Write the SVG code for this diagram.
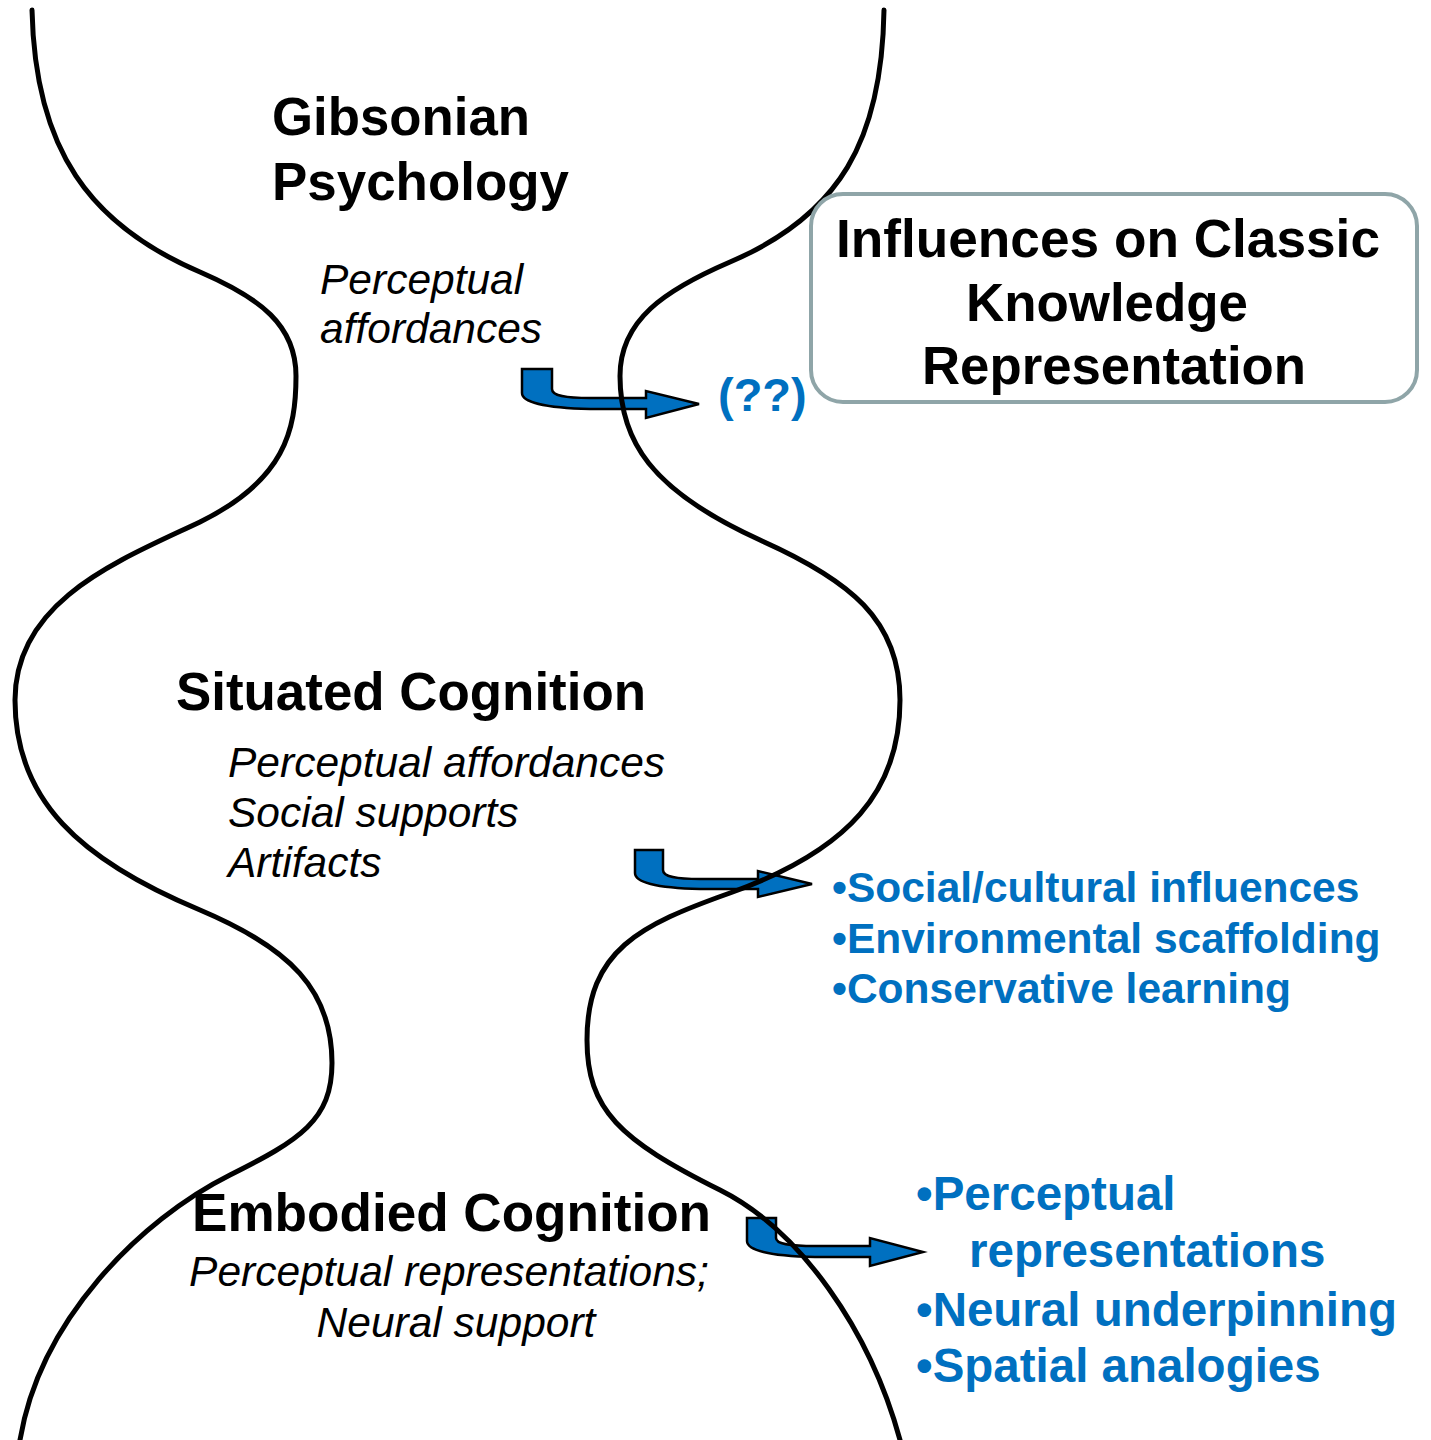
<svg xmlns="http://www.w3.org/2000/svg" width="1431" height="1440" viewBox="0 0 1431 1440">
<style>
.curve{fill:none;stroke:#000;stroke-width:5;stroke-linecap:round}
.arr{fill:#0070C0;stroke:#000;stroke-width:2.5;stroke-linejoin:miter}
.title{font-family:"Liberation Sans",Arial,sans-serif;font-weight:bold;font-size:53px;fill:#000}
.ital{font-family:"Liberation Sans",Arial,sans-serif;font-style:italic;font-size:42.5px;fill:#000}
.blue{font-family:"Liberation Sans",Arial,sans-serif;font-weight:bold;fill:#0070C0}
.box{fill:#fff;stroke:#8FA5A8;stroke-width:4}
</style>
<rect width="1431" height="1440" fill="#fff"/>
<g id="connectors">
<path class="arr" d="M522,369 H552 V389 C552,396 565,398 590,398 H646 V391 L699,404 L646,418 V409 H590 C545,408 522,402 522,393 Z"/>
<path class="arr" d="M635,850 H663 V870 C663,877 676,879 700,879 H758 V871 L812,884 L758,897 V889 H700 C655,888 635,882 635,873 Z"/>
<path class="arr" d="M747,1218 H776 V1238 C776,1244 789,1246 815,1246 H870 V1238 L923,1252 L870,1266 V1257 H815 C768,1256 747,1250 747,1241 Z"/>
</g>
<g id="hourglass">
<path class="curve" d="M32,10 C35,150 90,225 200,272 C260,298 296,325 296,376 C296,430 285,480 200,522 C120,560 15,600 15,700 C15,800 80,860 200,910 C290,948 332,990 332,1063 C332,1120 300,1140 230,1175 C140,1220 40,1320 20,1440"/>
<path class="curve" d="M884,10 C882,140 840,215 730,262 C665,290 620,320 620,376 C620,440 650,490 760,540 C850,580 900,620 900,700 C900,790 850,850 730,893 C640,925 587,950 587,1040 C587,1110 620,1140 720,1190 C800,1230 870,1330 900,1440"/>
</g>
<g id="box-influences">
<rect class="box" x="811" y="194" width="606" height="208" rx="32" ry="32"/>
<text class="title" x="836" y="257" textLength="544" lengthAdjust="spacingAndGlyphs">Influences on Classic</text>
<text class="title" x="966" y="321" textLength="282" lengthAdjust="spacingAndGlyphs">Knowledge</text>
<text class="title" x="922" y="384" textLength="384" lengthAdjust="spacingAndGlyphs">Representation</text>
</g>
<g id="gibsonian">
<text class="title" x="272" y="135" textLength="258" lengthAdjust="spacingAndGlyphs">Gibsonian</text>
<text class="title" x="272" y="200" textLength="297" lengthAdjust="spacingAndGlyphs">Psychology</text>
<text class="ital" x="320" y="294">Perceptual</text>
<text class="ital" x="320" y="343">affordances</text>
</g>
<g id="gibsonian-result">
<text class="blue" x="718" y="411" font-size="47">(??)</text>
</g>
<g id="situated">
<text class="title" x="176" y="710" textLength="470" lengthAdjust="spacingAndGlyphs">Situated Cognition</text>
<text class="ital" x="228" y="777">Perceptual affordances</text>
<text class="ital" x="228" y="827">Social supports</text>
<text class="ital" x="228" y="877">Artifacts</text>
</g>
<g id="situated-result">
<text class="blue" x="832" y="902" font-size="42.5">•Social/cultural influences</text>
<text class="blue" x="832" y="953" font-size="42.5">•Environmental scaffolding</text>
<text class="blue" x="832" y="1003" font-size="42.5">•Conservative learning</text>
</g>
<g id="embodied">
<text class="title" x="192" y="1231" textLength="519" lengthAdjust="spacingAndGlyphs">Embodied Cognition</text>
<text class="ital" x="449" y="1286" text-anchor="middle">Perceptual representations;</text>
<text class="ital" x="456" y="1337" text-anchor="middle">Neural support</text>
</g>
<g id="embodied-result">
<text class="blue" x="916" y="1210" font-size="47.5">•Perceptual</text>
<text class="blue" x="969" y="1267" font-size="47.5">representations</text>
<text class="blue" x="916" y="1326" font-size="47.5">•Neural underpinning</text>
<text class="blue" x="916" y="1382" font-size="47.5">•Spatial analogies</text>
</g>
</svg>
